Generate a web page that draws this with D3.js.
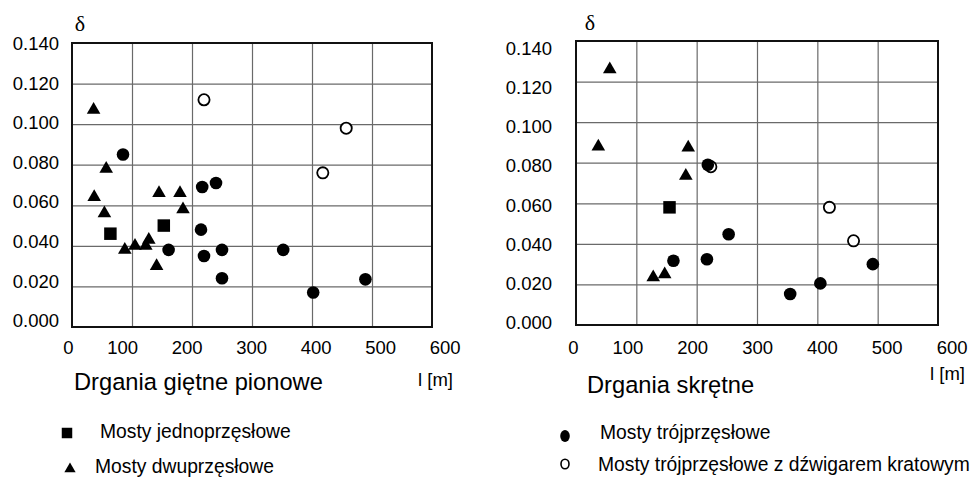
<!DOCTYPE html>
<html>
<head>
<meta charset="utf-8">
<script src="https://cdn.jsdelivr.net/npm/d3@7"></script>
<style>
  html, body { margin: 0; padding: 0; background: #fff; }
  svg { display: block; font-family: "Liberation Sans", Arial, sans-serif; }
</style>
</head>
<body>
<svg id="chart" width="975" height="482"></svg>
<script>
// ---- Tick labels ----
const xTicks = [0, 100, 200, 300, 400, 500, 600];
const yTicks = [0, 0.02, 0.04, 0.06, 0.08, 0.10, 0.12, 0.14];
const xGrid = [100, 200, 300, 400, 500];
const yGrid = [0.02, 0.04, 0.06, 0.08, 0.10, 0.12];

// ---- Panel titles / legend ----
const panelTitles = ["Drgania giętne pionowe", "Drgania skrętne"];
const xAxisTitle = "l [m]";
const yAxisTitle = "δ";
const seriesNames = ["Mosty jednoprzęsłowe", "Mosty dwuprzęsłowe", "Mosty trójprzęsłowe", "Mosty trójprzęsłowe z dźwigarem kratowym"];

// ---- Left panel: Drgania giętne pionowe ----
const bendSingleL = [64, 153];
const bendSingleD = [0.046, 0.050];
const bendDoubleL = [36, 57, 37, 54, 88, 105, 123, 128, 141, 145, 180, 185];
const bendDoubleD = [0.107, 0.078, 0.064, 0.056, 0.038, 0.040, 0.040, 0.043, 0.030, 0.066, 0.066, 0.058];
const bendTripleL = [85, 161, 217, 240, 215, 220, 250, 250, 352, 402, 489];
const bendTripleD = [0.085, 0.038, 0.069, 0.071, 0.048, 0.035, 0.038, 0.024, 0.038, 0.017, 0.0235];
const bendTrussL = [220, 457, 418];
const bendTrussD = [0.112, 0.098, 0.076];

// ---- Right panel: Drgania skrętne ----
const torsSingleL = [155];
const torsSingleD = [0.058];
const torsDoubleL = [56, 37, 186, 182, 128, 147];
const torsDoubleD = [0.126, 0.088, 0.0875, 0.0735, 0.0235, 0.025];
const torsTripleL = [218.5, 253, 161.5, 217, 492, 355, 405];
const torsTripleD = [0.079, 0.0447, 0.0317, 0.0324, 0.030, 0.0153, 0.0205];
const torsTrussL = [223.5, 420, 460];
const torsTrussD = [0.078, 0.058, 0.0415];

const zip = (a, b) => a.map((v, i) => ({ x: v, y: b[i] }));

const svg = d3.select("#chart");
const FONT_TICK = 18.5;
const FONT_LEG = 19.3;
const INK = "#000";

function panel(cfg) {
  const g = svg.append("g");
  const x = d3.scaleLinear().domain([0, 600]).range([cfg.x0, cfg.x1]);
  const y = d3.scaleLinear().domain([0, 0.14]).range([cfg.y0, cfg.y1]);
  const xLab = d3.scaleLinear().domain([0, 600]).range(cfg.xLabRange);
  const yLab = d3.scaleLinear().domain([0, 0.14]).range(cfg.yLabRange);

  // grid via axes (full-length ticks)
  const gx = g.append("g").attr("class", "gridx").attr("transform", `translate(0,${y(0)})`)
    .call(d3.axisBottom(x).tickValues(xGrid).tickSize(-(y(0) - y(0.14))).tickFormat(""));
  gx.select(".domain").remove();
  const gy = g.append("g").attr("class", "gridy").attr("transform", `translate(${x(0)},0)`)
    .call(d3.axisLeft(y).tickValues(yGrid).tickSize(-(x(600) - x(0))).tickFormat(""));
  gy.select(".domain").remove();
  g.selectAll(".gridx line, .gridy line")
    .attr("stroke", "#6a6a6a")
    .attr("stroke-width", 1.2);

  // y tick labels
  const ya = g.append("g").attr("transform", `translate(${cfg.yLabX},0)`)
    .call(d3.axisLeft(yLab).tickValues(yTicks).tickFormat(d3.format(".3f")).tickSize(0).tickPadding(0));
  ya.select(".domain").remove();
  ya.selectAll("text").attr("font-size", FONT_TICK).attr("font-family", "Liberation Sans, Arial, sans-serif")
    .attr("fill", INK).attr("dy", "0.36em");

  // x tick labels
  const xa = g.append("g").attr("transform", `translate(0,${cfg.xLabY})`)
    .call(d3.axisBottom(xLab).tickValues(xTicks).tickFormat(d3.format("d")).tickSize(0).tickPadding(0));
  xa.select(".domain").remove();
  xa.selectAll("text").attr("font-size", FONT_TICK).attr("font-family", "Liberation Sans, Arial, sans-serif")
    .attr("fill", INK).attr("text-anchor", "end");

  // points: truss (open) first, then others
  g.append("g").selectAll("circle").data(zip(cfg.trussL, cfg.trussD)).join("circle")
    .attr("cx", d => x(d.x)).attr("cy", d => y(d.y)).attr("r", 5.6)
    .attr("fill", "#fff").attr("stroke", "#000").attr("stroke-width", 1.8);
  g.append("g").selectAll("path").data(zip(cfg.singleL, cfg.singleD)).join("path")
    .attr("transform", d => `translate(${x(d.x)},${y(d.y)})`)
    .attr("d", d3.symbol(d3.symbolSquare, 156)).attr("fill", "#000");
  g.append("g").selectAll("path").data(zip(cfg.doubleL, cfg.doubleD)).join("path")
    .attr("transform", d => `translate(${x(d.x)},${y(d.y)})`)
    .attr("d", d3.symbol(d3.symbolTriangle, 80)).attr("fill", "#000");
  g.append("g").selectAll("circle").data(zip(cfg.tripleL, cfg.tripleD)).join("circle")
    .attr("cx", d => x(d.x)).attr("cy", d => y(d.y)).attr("r", 6.3).attr("fill", "#000");

  // frame
  g.append("rect").attr("x", x(0)).attr("y", y(0.14))
    .attr("width", x(600) - x(0)).attr("height", y(0) - y(0.14))
    .attr("fill", "none").attr("stroke", "#111").attr("stroke-width", 2);

  // delta
  g.append("text").attr("x", cfg.deltaX).attr("y", cfg.deltaY)
    .attr("font-family", "Liberation Serif, Times New Roman, serif").attr("font-size", 22)
    .attr("text-anchor", "middle").attr("fill", INK).text(yAxisTitle);

  // titles
  g.append("text").attr("x", cfg.titleX).attr("y", cfg.titleY)
    .attr("font-size", 23.7).attr("fill", INK).text(cfg.title);
  g.append("text").attr("x", cfg.unitX).attr("y", cfg.unitY)
    .attr("font-size", FONT_TICK).attr("fill", INK).text(xAxisTitle);
}

panel({
  x0: 72, x1: 432, y0: 327, y1: 43,
  xLabRange: [73, 460], yLabRange: [320, 43], yLabX: 59, xLabY: 340.5,
  singleL: bendSingleL, singleD: bendSingleD,
  doubleL: bendDoubleL, doubleD: bendDoubleD,
  tripleL: bendTripleL, tripleD: bendTripleD,
  trussL: bendTrussL, trussD: bendTrussD,
  deltaX: 80, deltaY: 31, title: panelTitles[0], titleX: 74, titleY: 389.5,
  unitX: 418, unitY: 385.5
});
panel({
  x0: 576, x1: 938, y0: 325, y1: 41,
  xLabRange: [578, 967], yLabRange: [322, 47.5], yLabX: 552, xLabY: 340.5,
  singleL: torsSingleL, singleD: torsSingleD,
  doubleL: torsDoubleL, doubleD: torsDoubleD,
  tripleL: torsTripleL, tripleD: torsTripleD,
  trussL: torsTrussL, trussD: torsTrussD,
  deltaX: 590, deltaY: 29.5, title: panelTitles[1], titleX: 587, titleY: 393,
  unitX: 930, unitY: 379.5
});

// ---- Legend ----
const leg = svg.append("g").attr("font-size", FONT_LEG).attr("fill", INK);
const legendItems = [
  { name: seriesNames[0], mx: 67, tx: 100, y: 433, kind: "square" },
  { name: seriesNames[1], mx: 70, tx: 95, y: 468, kind: "triangle" },
  { name: seriesNames[2], mx: 565, tx: 600, y: 434, kind: "filled" },
  { name: seriesNames[3], mx: 565, tx: 598, y: 466, kind: "open" }
];
legendItems.forEach(it => {
  if (it.kind === "square") {
    leg.append("path").attr("transform", `translate(${it.mx},${it.y})`)
      .attr("d", d3.symbol(d3.symbolSquare, 110)).attr("fill", "#000");
  } else if (it.kind === "triangle") {
    leg.append("path").attr("transform", `translate(${it.mx},${it.y + 1})`)
      .attr("d", d3.symbol(d3.symbolTriangle, 55)).attr("fill", "#000");
  } else if (it.kind === "filled") {
    leg.append("ellipse").attr("cx", it.mx).attr("cy", it.y + 2).attr("rx", 4.8).attr("ry", 6)
      .attr("fill", "#000");
  } else {
    leg.append("ellipse").attr("cx", it.mx).attr("cy", it.y - 2).attr("rx", 4).attr("ry", 4.8)
      .attr("fill", "#fff").attr("stroke", "#000").attr("stroke-width", 1.6);
  }
  leg.append("text").attr("x", it.tx).attr("y", it.y + 4.6).text(it.name);
});
</script>
</body>
</html>
